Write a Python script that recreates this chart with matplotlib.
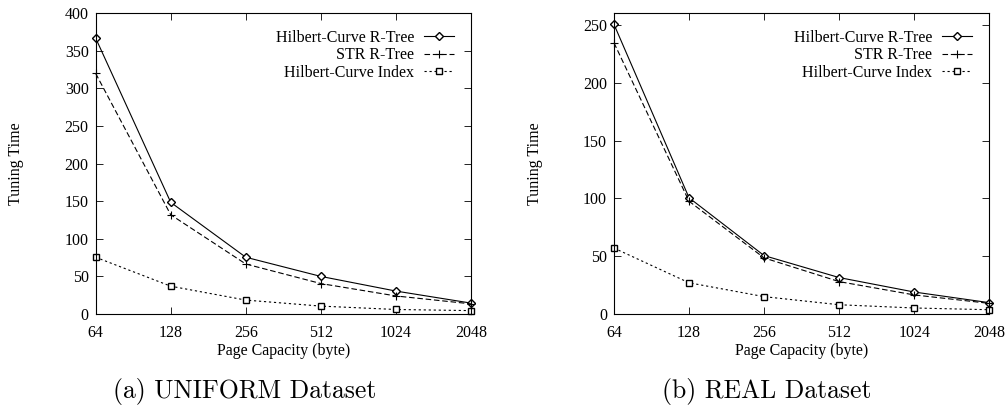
import matplotlib
matplotlib.use("Agg")
import matplotlib.pyplot as plt

page_capacity = [64, 128, 256, 512, 1024, 2048]
series_names = ["Hilbert-Curve R-Tree", "STR R-Tree", "Hilbert-Curve Index"]

uniform_hilbert_rtree = [367, 148.5, 75.5, 50, 30.5, 14.5]
uniform_str_rtree = [320, 132, 66.5, 40.5, 24, 13.5]
uniform_hilbert_index = [75.5, 37, 18.5, 10.5, 6, 4.5]

real_hilbert_rtree = [250.5, 100.5, 50.5, 31.5, 19, 9.8]
real_str_rtree = [234.5, 97.5, 48.5, 28, 16.5, 9.2]
real_hilbert_index = [57, 27, 15, 8, 5.2, 3.7]

plt.rcParams["font.family"] = ["Liberation Serif", "DejaVu Serif"]

STYLES = [
    dict(linestyle="-", marker="D", markersize=4.5, markerfacecolor="white"),
    dict(linestyle=(0, (5, 2.5)), marker="+", markersize=6, markeredgewidth=0.8),
    dict(linestyle=(0, (2, 2.5)), marker="s", markersize=5, markerfacecolor="white"),
]


def draw_panel(fig, ax, values, ymax, yticks, caption, caption_x):
    for name, ys, style in zip(series_names, values, STYLES):
        ax.plot(page_capacity, ys, color="black", linewidth=0.8,
                markeredgecolor="black", clip_on=False, label=name, **style)
    ax.set_xscale("log", base=2)
    ax.set_xlim(64, 2048)
    ax.set_ylim(0, ymax)
    ax.set_xticks(page_capacity)
    ax.set_xticklabels([str(v) for v in page_capacity])
    ax.minorticks_off()
    ax.set_yticks(yticks)
    ax.tick_params(direction="in", length=5, width=0.6, top=True, right=True,
                   labelsize=11.5)
    ax.tick_params(axis="x", pad=8)
    ax.tick_params(axis="y", pad=5)
    for spine in ax.spines.values():
        spine.set_linewidth(0.8)
    ax.set_xlabel("Page Capacity (byte)", fontsize=11.5)
    ax.xaxis.set_label_coords(0.5, -0.095)
    ax.set_ylabel("Tuning Time", fontsize=11.5)
    ax.yaxis.set_label_coords(-0.19, 0.5)
    ax.legend(loc="upper right", bbox_to_anchor=(0.955, 0.945), frameon=False,
              markerfirst=False, numpoints=1, handlelength=1.9,
              handletextpad=0.6, labelspacing=0.1, borderpad=0,
              borderaxespad=0, fontsize=11.5)
    # captions sit a bit left of the axes centre, as in the paper
    fig.text(caption_x, 0.04, caption, ha="center", va="center",
             fontsize=18.5, family="cmr10")


fig = plt.figure(figsize=(10.07, 4.08), dpi=100)
ax1 = fig.add_axes([0.095, 0.2304, 0.3727, 0.737])
ax2 = fig.add_axes([0.6097, 0.2304, 0.3727, 0.737])

draw_panel(fig, ax1, [uniform_hilbert_rtree, uniform_str_rtree, uniform_hilbert_index],
           400, range(0, 401, 50), "(a) UNIFORM Dataset", 245 / 1007)
draw_panel(fig, ax2, [real_hilbert_rtree, real_str_rtree, real_hilbert_index],
           260, range(0, 251, 50), "(b) REAL Dataset", 767 / 1007)

fig.savefig("out.png", dpi=100)
